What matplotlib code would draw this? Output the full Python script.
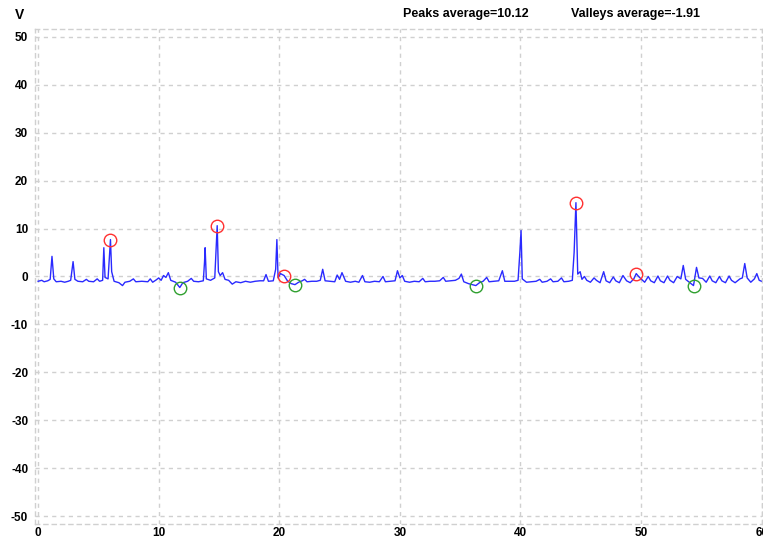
import matplotlib
matplotlib.use("Agg")
import matplotlib.pyplot as plt

#------------------------------------------------------------------------#
# Data (time, volts)
#------------------------------------------------------------------------#

signal_t = [0.0, 0.3, 0.5, 0.8, 1.0, 1.15, 1.3, 1.5, 1.9, 2.2, 2.5, 2.7, 2.9, 3.05, 3.3,
            3.7, 4.0, 4.2, 4.6, 4.9, 5.1, 5.35, 5.45, 5.55, 5.8, 5.9, 6.0, 6.1, 6.3, 6.7,
            7.0, 7.2, 7.6, 7.9, 8.1, 8.6, 9.1, 9.3, 9.5, 9.8, 10.0, 10.2, 10.4, 10.6, 10.8,
            11.0, 11.4, 11.75, 12.0, 12.4, 12.7, 12.9, 13.3, 13.7, 13.8, 13.85, 13.95, 14.3,
            14.65, 14.75, 14.85, 14.95, 15.1, 15.3, 15.5, 15.8, 16.1, 16.4, 16.8, 17.2, 17.6,
            18.0, 18.4, 18.7, 18.9, 19.1, 19.5, 19.7, 19.8, 19.9, 20.1, 20.4, 20.7, 21.0,
            21.3, 21.6, 21.9, 22.1, 22.3, 22.7, 23.1, 23.4, 23.6, 23.8, 24.2, 24.6, 24.8,
            25.0, 25.2, 25.5, 25.9, 26.3, 26.6, 26.9, 27.1, 27.5, 27.9, 28.3, 28.6, 28.8,
            29.2, 29.6, 29.8, 30.0, 30.2, 30.4, 30.8, 31.2, 31.6, 31.9, 32.1, 32.5, 32.9,
            33.3, 33.6, 33.8, 34.2, 34.6, 34.9, 35.1, 35.3, 35.7, 36.0, 36.3, 36.6, 36.9,
            37.2, 37.4, 37.8, 38.2, 38.5, 38.7, 39.1, 39.5, 39.8, 39.95, 40.05, 40.15, 40.5,
            40.9, 41.3, 41.6, 41.8, 42.2, 42.5, 42.7, 43.1, 43.4, 43.6, 44.0, 44.3, 44.45,
            44.6, 44.75, 44.95, 45.1, 45.3, 45.5, 45.8, 46.1, 46.3, 46.6, 46.9, 47.1, 47.4,
            47.7, 47.9, 48.2, 48.5, 48.8, 49.1, 49.4, 49.6, 49.8, 50.0, 50.3, 50.6, 50.8,
            51.1, 51.4, 51.6, 51.9, 52.2, 52.4, 52.7, 53.0, 53.3, 53.5, 53.7, 54.0, 54.35,
            54.6, 54.8, 55.1, 55.4, 55.7, 55.9, 56.2, 56.5, 56.7, 57.0, 57.3, 57.5, 57.8,
            58.2, 58.4, 58.6, 58.8, 59.1, 59.4, 59.6, 59.8, 60.0]
signal_v = [-1.0, -0.8, -1.1, -0.9, -0.6, 4.2, -0.5, -1.1, -1.0, -1.2, -1.0, -0.8, 3.1, -0.6, -1.0,
            -1.1, -0.6, -1.0, -1.1, -0.5, -1.0, -0.8, 6.0, -0.2, -0.5, 3.5, 7.7, 1.0, -1.0, -1.3,
            -1.9, -1.2, -1.0, -0.5, -1.1, -1.0, -1.1, -0.5, -1.2, -0.7, -0.3, -0.8, 0.2, -0.2, 0.8,
            -0.8, -1.2, -2.3, -1.3, -1.0, -0.4, -1.0, -1.1, -0.9, 3.0, 6.0, -0.5, -0.8,
            -0.3, 5.0, 10.6, 1.0, 0.2, 0.8, -0.6, -0.8, -1.6, -1.1, -1.3, -1.0, -1.2,
            -1.0, -0.9, -0.9, 0.4, -1.0, -0.9, 1.5, 7.7, -0.3, 0.6, 0.2, -1.0, -1.5,
            -1.7, -1.2, -0.9, -0.6, -1.1, -1.0, -1.0, -0.8, 1.5, -0.9, -1.0, -1.1, 0.3,
            -0.6, 0.8, -1.0, -1.2, -1.0, -1.2, 0.2, -1.1, -1.2, -1.0, -1.1, 0.0, -1.1,
            -1.0, -0.9, 1.2, -0.3, 0.2, -1.0, -1.2, -1.0, -1.1, -0.4, -1.1, -1.0, -1.0,
            -0.9, -0.2, -1.0, -0.9, -0.8, -0.4, 0.5, -1.1, -1.5, -1.7, -1.9, -1.3, -1.0,
            -0.2, -1.1, -1.0, -0.9, 1.2, -1.0, -1.0, -1.0, -0.8, 5.0, 9.6, -0.5, -1.2,
            -1.1, -1.0, -0.6, -1.2, -1.0, -0.5, -1.1, -1.0, -0.3, -1.1, -1.0, -0.8, 5.0,
            15.4, 0.5, 1.0, -0.6, 0.0, -0.8, -1.2, -0.3, -0.8, -1.3, 1.0, -0.9, -1.3,
            -0.1, -0.9, -1.3, 0.2, -0.9, -1.3, -0.5, 0.6, 0.0, -0.5, -1.2, 0.0, -0.9,
            -1.3, 0.1, -0.9, -1.3, 0.1, -0.8, -1.3, 0.0, -0.5, 2.3, -0.6, -1.2, -1.9,
            1.9, -0.3, -0.4, -1.2, 0.1, -0.9, -1.3, 0.0, -0.9, -1.3, 0.1, -0.8, -1.3,
            -0.5, -0.3, 2.7, -0.3, -1.2, -0.5, 0.6, -0.8, -1.0]

peaks_t = [6.0, 14.85, 20.4, 44.6, 49.6]
peaks_v = [7.7, 10.6, 0.2, 15.4, 0.6]
valleys_t = [11.75, 21.3, 36.3, 54.35]
valleys_v = [-2.3, -1.7, -1.9, -1.9]

x_ticks = [0, 10, 20, 30, 40, 50, 60]
y_ticks = [-50, -40, -30, -20, -10, 0, 10, 20, 30, 40, 50]

#------------------------------------------------------------------------#
# Plot
#------------------------------------------------------------------------#

plt.rcParams['font.family'] = ['Liberation Sans Narrow', 'Liberation Sans', 'DejaVu Sans']
plt.rcParams['axes.unicode_minus'] = False

fig = plt.figure(figsize=(7.63, 5.40), dpi=100)
ax = fig.add_axes([0.046, 0.030, 0.953, 0.916])

ax.plot(signal_t, signal_v, color='#2a2aff', linewidth=1.0)
ax.plot(peaks_t, peaks_v, 'o', markerfacecolor='none', markeredgecolor='#ff3030',
        markersize=9, markeredgewidth=1.0)
ax.plot(valleys_t, valleys_v, 'o', markerfacecolor='none', markeredgecolor='#30a030',
        markersize=9, markeredgewidth=1.0)

ax.set_xlim(-0.25, 60.05)
ax.set_ylim(-51.6, 51.6)
ax.set_xticks(x_ticks)
ax.set_yticks(y_ticks)
ax.tick_params(length=0, labelsize=8.5)
ax.tick_params(axis='x', pad=2)
ax.tick_params(axis='y', pad=5)
for lab in ax.get_xticklabels() + ax.get_yticklabels():
    lab.set_fontweight('bold')

ax.grid(True, color='#d0d0d0', linestyle=(0, (3, 3)), linewidth=1.0)
for sp in ax.spines.values():
    sp.set_color('#d0d0d0')
    sp.set_linestyle((0, (3, 3)))
    sp.set_linewidth(1.0)

fig.text(20 / 763, 1 - 15 / 540, 'V', ha='center', va='center', fontsize=10, fontweight='bold')
fig.text(403 / 763, 1 - 14 / 540, 'Peaks average=10.12', ha='left', va='center',
         fontsize=9, fontweight='bold')
fig.text(571 / 763, 1 - 14 / 540, 'Valleys average=-1.91', ha='left', va='center',
         fontsize=9, fontweight='bold')

plt.savefig('out.png', dpi=100)
